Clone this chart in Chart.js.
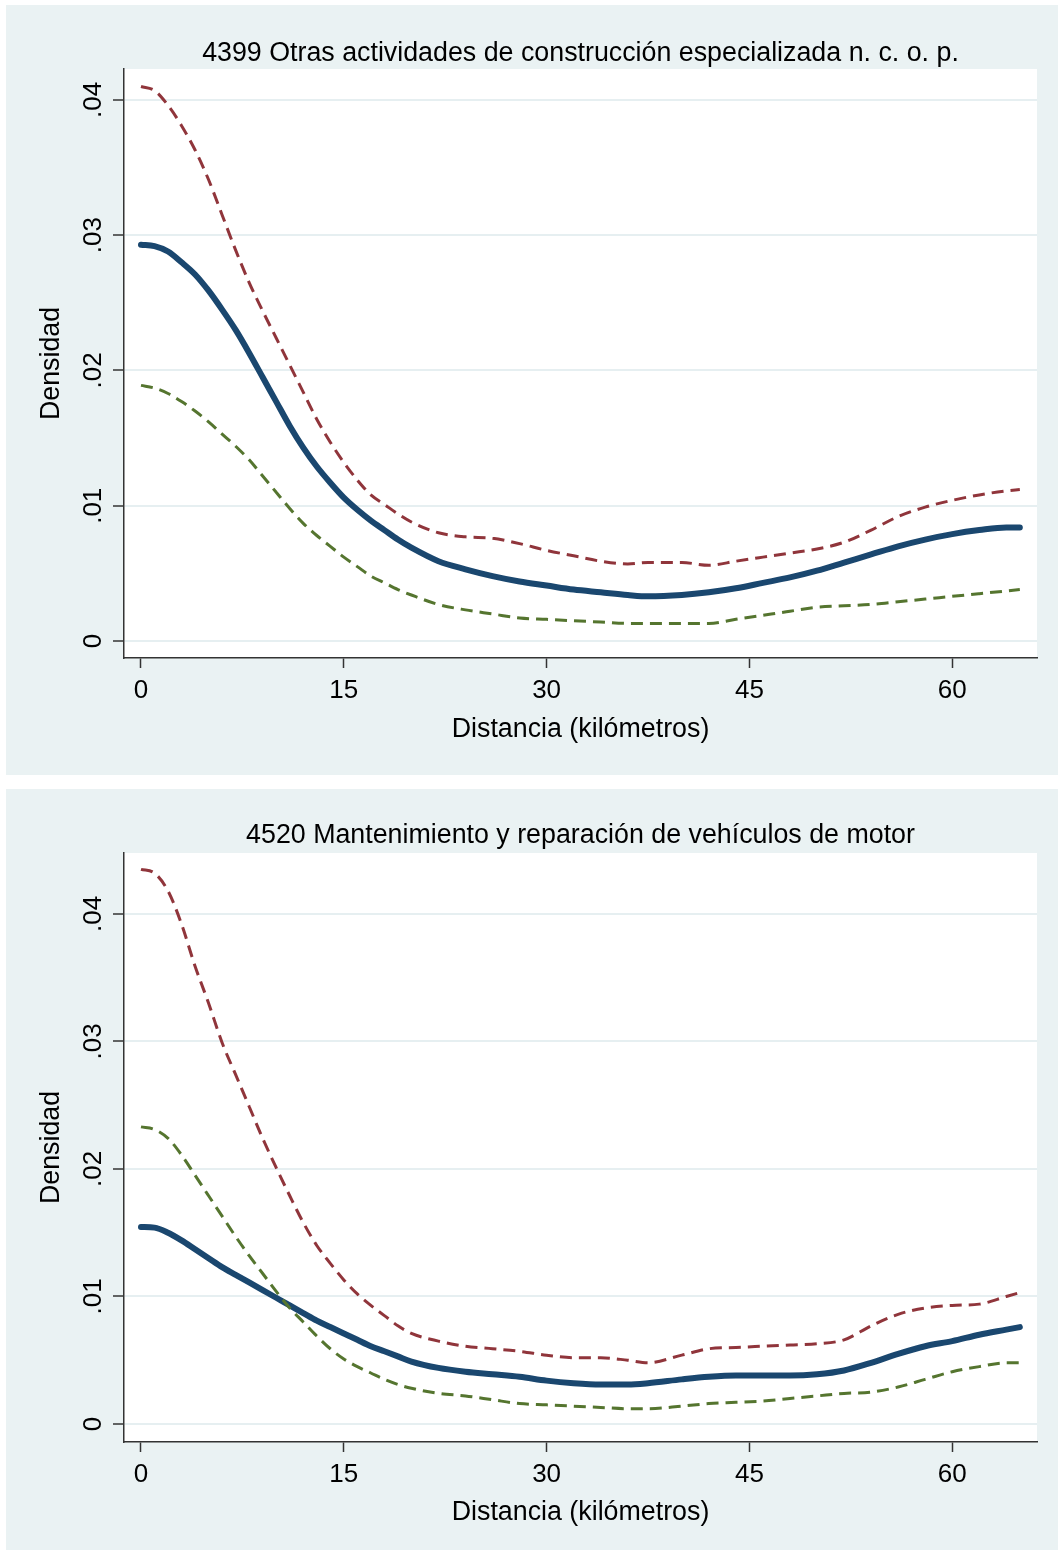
<!DOCTYPE html>
<html><head><meta charset="utf-8">
<script src="https://cdn.jsdelivr.net/npm/chart.js@4"></script>
<style>
html,body{margin:0;padding:0;background:#fff;}
body{width:1058px;height:1551px;position:relative;overflow:hidden;}
.panel{position:absolute;left:6px;width:1052px;background:#eaf2f3;}
#p1{top:5px;height:770px;}
#p2{top:789px;height:761px;}
canvas{display:block;}
</style></head><body>
<div class="panel" id="p1"><canvas id="c1" width="1052" height="770"></canvas></div>
<div class="panel" id="p2"><canvas id="c2" width="1052" height="761"></canvas></div>
<script>
const distancia = [0,1,2,3,4,5,6,7,8,9,10,11,12,13,14,15,16,17,18,19,20,22,24,26,28,30,32,34,36,37.5,40,42,44,46,48,50,52,54,56,58,60,62,64,65];
const titulos = ['4399 Otras actividades de construcción especializada n. c. o. p.', '4520 Mantenimiento y reparación de vehículos de motor'];
const tituloX = 'Distancia (kilómetros)';
const tituloY = 'Densidad';
const xTicks = [0,15,30,45,60];
const yTicks = [0,0.01,0.02,0.03,0.04];
const yTickLabels = ['0','.01','.02','.03','.04'];

// Panel 1 (4399)
const p1Densidad = [.0293,.0292,.0288,.0280,.0271,.0259,.0245,.0230,.0213,.0195,.0177,.0159,.0143,.0129,.0117,.0106,.0097,.0089,.0082,.0075,.0069,.0059,.0053,.0048,.0044,.0041,.0038,.0036,.0034,.0033,.0034,.0036,.0039,.0043,.0047,.0052,.0058,.0064,.0070,.0075,.0079,.0082,.0084,.0084];
const p1Superior = [.0410,.0407,.0396,.0381,.0363,.0341,.0315,.0289,.0265,.0244,.0224,.0204,.0184,.0164,.0147,.0132,.0119,.0108,.0101,.0094,.0088,.0080,.0077,.0076,.0072,.0067,.0063,.0059,.0057,.0058,.0058,.0056,.0059,.0062,.0065,.0068,.0073,.0082,.0092,.0099,.0104,.0108,.0111,.0112];
const p1Inferior = [.0189,.0187,.0183,.0177,.0170,.0162,.0153,.0144,.0134,.0122,.0110,.0098,.0087,.0078,.0070,.0062,.0055,.0048,.0043,.0038,.0034,.0027,.0023,.0020,.0017,.0016,.0015,.0014,.0013,.0013,.0013,.0013,.0016,.0019,.0022,.0025,.0026,.0027,.0029,.0031,.0033,.0035,.0037,.0038];

// Panel 2 (4520)
const p2Densidad = [.01545,.0154,.0150,.0144,.0137,.0130,.0123,.0117,.0111,.0105,.0099,.0093,.0087,.0081,.0076,.0071,.0066,.0061,.0057,.0053,.0049,.0044,.0041,.0039,.0037,.0034,.0032,.0031,.0031,.0032,.0035,.0037,.0038,.0038,.0038,.0039,.0042,.0048,.0055,.0061,.0065,.0070,.0074,.0076];
const p2Superior = [.0435,.0432,.0418,.0392,.0359,.0330,.0299,.0274,.0249,.0224,.0201,.0179,.0158,.0140,.0126,.0113,.0102,.0093,.0085,.0077,.0071,.0065,.0061,.0059,.0057,.0054,.0052,.0052,.0050,.0048,.0054,.0059,.0060,.0061,.0062,.0063,.0066,.0077,.0086,.0091,.0093,.0094,.0100,.0103];
const p2Inferior = [.0233,.0231,.0224,.0211,.0195,.0179,.0163,.0147,.0132,.0118,.0104,.0091,.0080,.0069,.0059,.0051,.0045,.0040,.0035,.0031,.0028,.0024,.0022,.0019,.0016,.0015,.0014,.0013,.0012,.0012,.0014,.0016,.0017,.0018,.0020,.0022,.0024,.0025,.0029,.0035,.0041,.0045,.0048,.0048];

const FONT = '"Liberation Sans", Arial, Helvetica, sans-serif';
const FS = 26;      // tick labels
const FT = 26.8;    // titles

function pts(arr){ return distancia.map((x,i)=>({x:x, y:arr[i]})); }

const plotBg = {
  id:'plotBg',
  beforeDraw(chart){
    const a = chart.chartArea, ctx = chart.ctx;
    ctx.save(); ctx.fillStyle = '#ffffff';
    ctx.fillRect(a.left, a.top, a.right - a.left, a.bottom - a.top);
    ctx.restore();
  }
};
const yLabels = {
  id:'yLabels',
  afterDraw(chart){
    const s = chart.scales.y, ctx = chart.ctx;
    ctx.save();
    ctx.font = FS + 'px ' + FONT;
    ctx.fillStyle = '#000';
    ctx.textAlign = 'center';
    ctx.textBaseline = 'middle';
    yTicks.forEach((v,i)=>{
      const py = s.getPixelForValue(v);
      ctx.save(); ctx.translate(s.right - 30, py); ctx.rotate(-Math.PI/2);
      ctx.fillText(yTickLabels[i], 0, 0);
      ctx.restore();
    });
    ctx.restore();
  }
};

function makeChart(id, titulo, azul, rojo, verde, yMin, yMax, H, titlePadTop, xTitlePadBottom){
  return new Chart(document.getElementById(id), {
    type:'line',
    data:{datasets:[
      {label:'Límite inferior', data:pts(verde), borderColor:'#55752f', borderWidth:3, borderDash:[12,7], order:1},
      {label:'Límite superior', data:pts(rojo), borderColor:'#90353b', borderWidth:3, borderDash:[12,7], order:2},
      {label:'Densidad', data:pts(azul), borderColor:'#1a476f', borderWidth:6, borderCapStyle:'round', borderJoinStyle:'round', order:3}
    ]},
    options:{
      responsive:false, animation:false, devicePixelRatio:1,
      elements:{point:{radius:0}, line:{cubicInterpolationMode:'monotone', fill:false}},
      layout:{padding:{left:0, right:21, top:0, bottom:0}},
      plugins:{
        legend:{display:false}, tooltip:{enabled:false},
        title:{display:true, text:titulo, fullSize:false, color:'#000',
          font:{family:FONT, size:FT, weight:'normal', lineHeight:1.2},
          padding:{top:titlePadTop, bottom:64 - titlePadTop - FT*1.2}}
      },
      scales:{
        x:{type:'linear', min:-1.257, max:66.27,
          afterBuildTicks:s=>{ s.ticks = xTicks.map(v=>({value:v})); },
          afterFit:s=>{ s.height = H - 653; },
          grid:{drawOnChartArea:false, tickLength:10, tickColor:'#333', tickWidth:1.5},
          border:{display:true, color:'#333', width:1.5},
          ticks:{color:'#000', font:{family:FONT, size:FS}, padding:7.3, maxRotation:0, autoSkip:false, callback:v=>String(v)},
          title:{display:true, text:tituloX, color:'#000', font:{family:FONT, size:FT, lineHeight:1.2}, padding:{top:0, bottom:xTitlePadBottom}}
        },
        y:{type:'linear', min:yMin, max:yMax,
          afterBuildTicks:s=>{ s.ticks = yTicks.map(v=>({value:v})); },
          afterFit:s=>{ s.width = 118; },
          grid:{color:'#e6eff1', lineWidth:2, tickLength:11, tickColor:'#333', tickWidth:1.5},
          border:{display:true, color:'#333', width:1.5},
          ticks:{display:false},
          title:{display:true, text:tituloY, color:'#000', font:{family:FONT, size:FT, lineHeight:1.2}, padding:{top:29.9, bottom:0}}
        }
      }
    },
    plugins:[plotBg, yLabels]
  });
}

makeChart('c1', titulos[0], p1Densidad, p1Superior, p1Inferior, -0.001257, 0.04229, 770, 32.9, 28.9);
makeChart('c2', titulos[1], p2Densidad, p2Superior, p2Inferior, -0.001412, 0.04478, 761, 30.9, 20.9);
</script>
</body></html>
